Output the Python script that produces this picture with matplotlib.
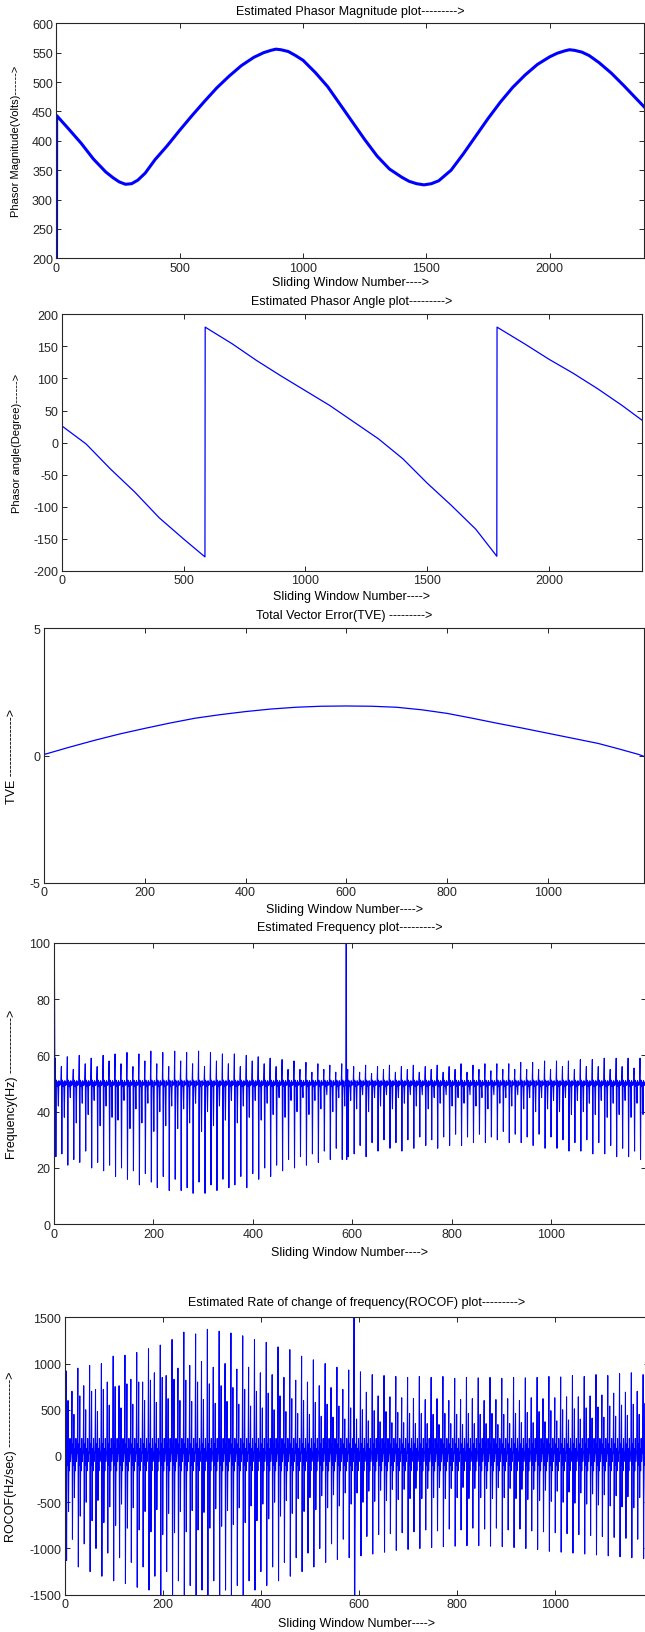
import numpy as np
import matplotlib.pyplot as plt

plt.rcParams['font.family'] = ['Liberation Sans', 'DejaVu Sans']
plt.rcParams['axes.unicode_minus'] = False

# ---------------- data ----------------
# phasor magnitude (volts) at sliding window numbers
mag_windows = [0, 1, 50, 100, 150, 200, 230, 255, 280, 305, 330, 360, 400, 450, 500, 550, 600, 650,
               700, 750, 800, 840, 870, 890, 910, 940, 970, 1000, 1050, 1100, 1150, 1200, 1250, 1300,
               1350, 1400, 1430, 1460, 1490, 1520, 1550, 1600, 1650, 1700, 1750, 1800, 1850, 1900,
               1950, 2000, 2030, 2060, 2080, 2100, 2130, 2160, 2200, 2250, 2300, 2350, 2382]
mag_volts = [0, 443, 420, 396, 369, 347, 337, 330, 326, 327, 333, 345, 368, 392, 418, 443, 467, 490,
             510, 528, 542, 550, 554, 556, 555, 552, 545, 537, 516, 492, 462, 432, 402, 374,
             352, 338, 331, 327, 325, 327, 332, 350, 378, 408, 438, 466, 491, 512,
             530, 543, 549, 553, 555, 554, 551, 545, 533, 515, 494, 472, 458]

# phasor angle (degree)
ang_windows = [0, 1, 100, 200, 300, 400, 500, 588, 589, 700, 800, 900, 1000, 1100, 1200,
               1300, 1400, 1500, 1600, 1700, 1786, 1787, 1900, 2000, 2100, 2200, 2300, 2382]
ang_degree = [0, 26, -2, -41, -77, -117, -150, -178, 180, 154, 128, 104, 81, 58, 32,
              6, -25, -63, -98, -135, -177, 180, 154, 130, 108, 84, 58, 35]

# total vector error
tve_windows = [0, 1, 50, 100, 150, 200, 250, 300, 350, 400, 450, 500, 550, 600, 650, 700,
               750, 800, 850, 900, 950, 1000, 1050, 1100, 1140, 1180, 1191]
tve_values = [1.0, 0.05, 0.33, 0.6, 0.85, 1.07, 1.28, 1.47, 1.61, 1.73, 1.83, 1.9, 1.94, 1.95, 1.94, 1.9,
              1.8, 1.66, 1.47, 1.27, 1.08, 0.88, 0.68, 0.48, 0.27, 0.05, -0.03]

# estimated frequency: one 12-window period per entry (up spike, deep dip, second dip)
freq_start = [0.0, 100.0]
freq_hi = [59, 56, 59.5, 55, 60, 57, 59, 56, 60, 58,
           60.5, 57, 61, 56, 60.5, 58, 61.5, 57, 61, 56,
           61.5, 58, 61, 57, 61.5, 56, 61, 58, 60.5, 57,
           60.5, 56, 60, 58, 59.5, 57, 59, 56, 58.5, 55,
           58, 55, 57.5, 54, 57, 55, 56.5, 54, 57, 55,
           56, 54, 56.5, 53.5, 56, 55, 56.5, 54, 56, 55,
           56.5, 54, 56, 55, 56.5, 54, 56, 55, 57, 54,
           56.5, 55, 57, 54.5, 57, 55, 57, 55, 57.5, 55,
           57.5, 55, 58, 55, 58, 56, 58, 55, 58.5, 56,
           58.5, 56, 59, 55, 59, 56, 59, 55.5, 59]
freq_lo = [24, 25, 21, 23, 22, 26, 20, 22, 19, 21,
           17, 20, 16, 19, 14, 18, 15, 13, 17, 12,
           16, 12, 13, 11, 15, 11, 14, 12, 16, 13,
           14, 17, 13, 18, 16, 20, 17, 21, 19, 23,
           20, 24, 21, 25, 22, 26, 23, 27, 23, 24,
           25, 28, 24, 29, 26, 30, 27, 29, 26, 30,
           27, 31, 28, 30, 27, 31, 28, 32, 28, 31,
           29, 32, 29, 31, 30, 33, 29, 32, 29, 31,
           28, 32, 27, 31, 27, 30, 26, 29, 26, 30,
           25, 29, 25, 28, 24, 27, 24, 26, 23]
freq_mid = [42, 38, 45, 36, 43, 39, 44, 35, 42, 38,
            37, 44, 34, 41, 36, 43, 33, 40, 35, 42,
            34, 41, 36, 43, 33, 40, 35, 42, 37, 44,
            36, 42, 38, 44, 37, 43, 39, 45, 38, 44,
            40, 45, 39, 44, 41, 46, 40, 45, 42, 44,
            41, 46, 40, 45, 42, 46, 41, 45, 43, 46,
            42, 46, 41, 45, 43, 46, 42, 45, 43, 46,
            42, 45, 41, 46, 43, 45, 42, 46, 41, 45,
            40, 45, 41, 44, 40, 45, 39, 44, 40, 43,
            39, 44, 38, 43, 39, 44, 38, 43, 39]
freq_band = [50.3, None, None, 51.2, 49.0, 50.6, 48.4, None, 51.0, 49.3, 50.5, 49.5]
freq_glitch_at = 588
freq_glitch = [130.0, 23.0]

# estimated ROCOF (Hz/sec), same 12-window periods
rocof_start = [-2500.0, 2500.0]
rocof_hi = [920, 700, 950, 760, 980, 720, 1000, 800, 1080, 760,
            1090, 830, 1120, 800, 1160, 900, 1200, 870, 1260, 950,
            1340, 980, 1320, 1020, 1370, 960, 1350, 1000, 1330, 940,
            1300, 960, 1260, 900, 1230, 880, 1180, 850, 1150, 820,
            1080, 800, 1040, 760, 1000, 740, 960, 720, 930, 700,
            910, 690, 880, 650, 870, 640, 860, 630, 850, 620,
            860, 610, 850, 620, 860, 600, 840, 610, 850, 620,
            845, 600, 850, 610, 840, 620, 850, 600, 845, 630,
            850, 620, 860, 630, 855, 640, 870, 640, 860, 650,
            880, 660, 870, 680, 890, 690, 900, 700, 880]
rocof_lo = [-1130, -900, -1200, -950, -1250, -1000, -1300, -1050, -1350, -1100,
            -1380, -1150, -1420, -1200, -1450, -1300, -1600, -1250, -1600, -1350,
            -1600, -1400, -1600, -1450, -1600, -1350, -1600, -1450, -1600, -1400,
            -1600, -1350, -1450, -1250, -1400, -1200, -1350, -1150, -1300, -1100,
            -1250, -1050, -1200, -1000, -1150, -950, -1120, -900, -1100, -880,
            -1080, -870, -1060, -850, -1040, -840, -1020, -830, -1010, -820,
            -1000, -800, -990, -810, -980, -790, -975, -800, -970, -780,
            -970, -790, -975, -780, -980, -800, -990, -790, -1000, -810,
            -1010, -820, -1030, -830, -1040, -840, -1050, -850, -1060, -860,
            -1070, -870, -1080, -880, -1090, -890, -1100, -900, -1110]
rocof_mid = [600, 450, 650, 500, 700, 480, 720, 550, 750, 520,
             780, 560, 800, 600, 820, 580, 850, 620, 830, 600,
             820, 590, 800, 610, 780, 570, 760, 590, 740, 560,
             720, 540, 700, 520, 680, 500, 650, 480, 620, 460,
             600, 450, 580, 430, 560, 420, 540, 400, 520, 400,
             500, 380, 490, 370, 480, 360, 470, 360, 460, 350,
             460, 350, 450, 340, 460, 350, 450, 340, 460, 350,
             450, 350, 460, 340, 450, 350, 460, 360, 470, 360,
             480, 370, 490, 380, 500, 390, 510, 400, 520, 410,
             530, 420, 540, 430, 550, 440, 560, 450, 570]
rocof_band = [30, None, None, 130, -100, None, None, 80, -160, 190, -60, 40]
rocof_glitch_at = 590
rocof_glitch = [2500.0, -2500.0]

# ---------------- build the per-window series ----------------
freq = list(freq_start)
for hi, lo, mid in zip(freq_hi, freq_lo, freq_mid):
    seg = list(freq_band)
    seg[1], seg[2], seg[7] = hi, lo, mid
    freq += seg
freq[freq_glitch_at:freq_glitch_at + 2] = freq_glitch

rocof = list(rocof_start)
for hi, lo, mid in zip(rocof_hi, rocof_lo, rocof_mid):
    seg = list(rocof_band)
    seg[1], seg[2], seg[5], seg[6] = hi, lo, mid, -mid
    rocof += seg
rocof[rocof_glitch_at:rocof_glitch_at + 2] = rocof_glitch

# ---------------- figure ----------------
W, H = 645, 1633
fig = plt.figure(figsize=(W / 100, H / 100), dpi=100)
blue = '#0000ff'
dark = '#262626'


def panel(l, r, t, b, title, title_y, xlabel_y, ylabel, ylabel_x, ylabel_size=9):
    ax = fig.add_axes([l / W, 1 - b / H, (r - l) / W, (b - t) / H])
    ax.tick_params(direction='in', top=True, right=True, length=3.5, width=0.7,
                   labelsize=9, colors=dark, pad=2.5)
    for s in ax.spines.values():
        s.set_linewidth(0.8)
        s.set_color(dark)
    ax.set_title(title, fontsize=9, y=1 + (t - title_y) / (b - t), pad=0, va='center')
    ax.set_xlabel('Sliding Window Number---->', fontsize=9, va='center')
    ax.xaxis.set_label_coords(0.5, -(xlabel_y - b) / (b - t))
    ax.set_ylabel(ylabel, fontsize=ylabel_size, va='center')
    ax.yaxis.set_label_coords((ylabel_x - l) / (r - l), 0.5)
    return ax


ax1 = panel(56.4, 644, 24.3, 259.3, 'Estimated Phasor Magnitude plot--------->', 11.7, 283.3,
            'Phasor Magnitude(Volts)------>', 15.6, 8)
ax1.plot(mag_windows, mag_volts, color=blue, lw=2.2, solid_joinstyle='round')
ax1.set_xlim(0, 2382)
ax1.set_ylim(200, 600)
ax1.set_xticks(np.arange(0, 2001, 500))
ax1.set_yticks(np.arange(200, 601, 50))

ax2 = panel(61.7, 642, 315.3, 572, 'Estimated Phasor Angle plot--------->', 301.7, 597,
            'Phasor angle(Degree)------>', 17.3, 8)
ax2.plot(ang_windows, ang_degree, color=blue, lw=0.9)
ax2.set_xlim(0, 2382)
ax2.set_ylim(-200, 200)
ax2.set_xticks(np.arange(0, 2001, 500))
ax2.set_yticks(np.arange(-200, 201, 50))

ax3 = panel(44, 644, 629.3, 884, 'Total Vector Error(TVE) --------->', 615.7, 910,
            'TVE --------------->', 12.3)
ax3.plot(tve_windows, tve_values, color=blue, lw=0.9)
ax3.set_xlim(0, 1191)
ax3.set_ylim(-5, 5)
ax3.set_xticks(np.arange(0, 1001, 200))
ax3.set_yticks([-5, 0, 5])

ax4 = panel(53.9, 646, 943.7, 1225.3, 'Estimated Frequency plot--------->', 928.3, 1253,
            'Frequency(Hz) -------------->', 12.3)
ax4.plot(np.arange(len(freq)), freq, color=blue, lw=0.75)
ax4.set_xlim(0, 1191)
ax4.set_ylim(0, 100)
ax4.set_xticks(np.arange(0, 1001, 200))
ax4.set_yticks(np.arange(0, 101, 20))

ax5 = panel(64.6, 649, 1318.3, 1595.7, 'Estimated Rate of change of frequency(ROCOF) plot--------->',
            1303.3, 1624, 'ROCOF(Hz/sec) ----------------->', 11.5)
ax5.plot(np.arange(len(rocof)), rocof, color=blue, lw=0.75)
ax5.set_xlim(0, 1191)
ax5.set_ylim(-1500, 1500)
ax5.set_xticks(np.arange(0, 1001, 200))
ax5.set_yticks(np.arange(-1500, 1501, 500))

fig.savefig('out.png', dpi=100)
